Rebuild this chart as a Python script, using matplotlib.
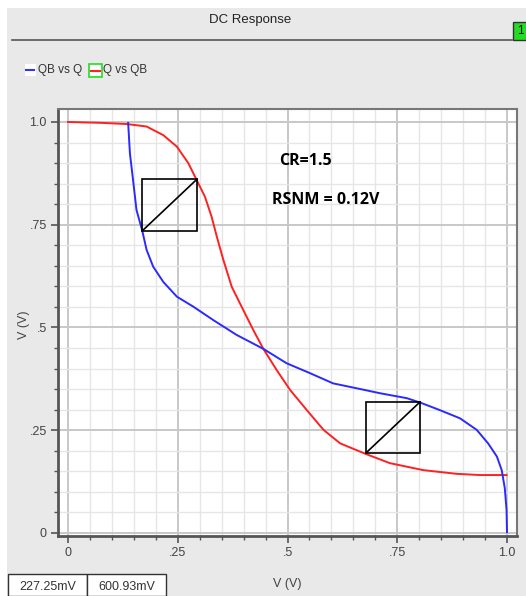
import numpy as np
import matplotlib.pyplot as plt
from matplotlib.patches import Rectangle
from matplotlib.ticker import MultipleLocator, FixedLocator

# QB vs Q (blue)
blueX = [0.137, 0.141, 0.149, 0.156, 0.169, 0.179, 0.194, 0.217, 0.248, 0.285, 0.331,
         0.384, 0.445, 0.498, 0.551, 0.604, 0.658, 0.711, 0.772, 0.803, 0.847, 0.893,
         0.931, 0.957, 0.977, 0.988, 0.995, 0.999, 1.0]
blueY = [0.998, 0.924, 0.851, 0.786, 0.736, 0.689, 0.648, 0.611, 0.575, 0.551, 0.518,
         0.482, 0.448, 0.413, 0.389, 0.364, 0.352, 0.340, 0.328, 0.317, 0.299, 0.279,
         0.251, 0.218, 0.186, 0.153, 0.109, 0.056, 0.002]
# Q vs QB (red)
redX = [0.0, 0.073, 0.134, 0.179, 0.217, 0.248, 0.274, 0.293, 0.312, 0.327, 0.339, 0.354,
        0.373, 0.399, 0.422, 0.445, 0.475, 0.506, 0.544, 0.582, 0.620, 0.679, 0.733,
        0.809, 0.885, 0.938, 0.999]
redY = [1.0, 0.998, 0.995, 0.989, 0.968, 0.940, 0.900, 0.859, 0.818, 0.770, 0.721, 0.664,
        0.599, 0.543, 0.494, 0.448, 0.397, 0.348, 0.299, 0.251, 0.218, 0.192, 0.170,
        0.153, 0.144, 0.141, 0.141]
# noise margin squares: (x0, y0, x1, y1)
squares = [(0.169, 0.735, 0.294, 0.861), (0.679, 0.195, 0.802, 0.319)]
tickVals = [0, 0.25, 0.5, 0.75, 1.0]
tickLabels = ["0", ".25", ".5", ".75", "1.0"]
cursorVals = ["227.25mV", "600.93mV"]

W, H = 526, 596
fig = plt.figure(figsize=(W/100, H/100), dpi=100)
fig.patch.set_facecolor("white")
uiFont = ["Liberation Sans", "DejaVu Sans"]
boldFont = ["Open Sans", "DejaVu Sans"]

# gray panel
fig.add_artist(Rectangle((7/W, 0), 1, (H-8)/H, transform=fig.transFigure,
                         facecolor="#e9e9e9", edgecolor="none", zorder=-10))
fig.text(250/W, 1-20/H, "DC Response", ha="center", va="center", fontsize=9.5,
         family=uiFont, color="#222222")
fig.add_artist(plt.Line2D([12/W, 512/W], [1-40/H, 1-40/H], transform=fig.transFigure,
                          color="#555555", lw=1.2))
fig.add_artist(Rectangle((513/W, 1-40/H), 14/W, 18/H, transform=fig.transFigure,
                         facecolor="#22dd22", edgecolor="#333333", lw=1))
fig.text(517/W, 1-31/H, "1", ha="left", va="center", fontsize=8.5, family=uiFont)

# legend
fig.add_artist(Rectangle((25/W, 1-76/H), 11/W, 12/H, transform=fig.transFigure,
                         facecolor="white", edgecolor="none"))
fig.add_artist(plt.Line2D([26/W, 34/W], [1-70/H, 1-70/H], transform=fig.transFigure,
                          color="#3333ff", lw=1.5))
fig.text(38/W, 1-70/H, "QB vs Q", ha="left", va="center", fontsize=8.5, family=uiFont,
         color="#333333")
fig.add_artist(Rectangle((89/W, 1-77/H), 13/W, 13/H, transform=fig.transFigure,
                         facecolor="white", edgecolor="#22dd22", lw=1.2))
fig.add_artist(plt.Line2D([91/W, 100/W], [1-70.5/H, 1-70.5/H], transform=fig.transFigure,
                          color="#ff2222", lw=1.5))
fig.text(103/W, 1-70/H, "Q vs QB", ha="left", va="center", fontsize=8.5, family=uiFont,
         color="#333333")

ax = fig.add_axes([58/W, 1-536/H, (517-58)/W, (536-109)/H])
ax.set_facecolor("white")
ax.set_xlim(-0.0228, 1.0228)
ax.set_ylim(-0.0073, 1.0316)

ax.xaxis.set_major_locator(FixedLocator(tickVals))
ax.yaxis.set_major_locator(FixedLocator(tickVals))
ax.xaxis.set_minor_locator(MultipleLocator(0.05))
ax.yaxis.set_minor_locator(MultipleLocator(0.05))
ax.set_xticklabels(tickLabels, family=uiFont, fontsize=9, color="#444444")
ax.set_yticklabels(tickLabels, family=uiFont, fontsize=9, color="#444444")
ax.grid(which="major", color="#c8c8c8", lw=1.4)
ax.grid(which="minor", color="#e6e6e6", lw=1.0)
ax.set_axisbelow(True)
ax.tick_params(which="major", length=5, width=1.2, color="#555555", pad=3)
ax.tick_params(which="minor", length=3, width=1, color="#555555")
for side in ["left", "bottom"]:
    ax.spines[side].set_color("#555555")
    ax.spines[side].set_linewidth(2)
for side in ["top", "right"]:
    ax.spines[side].set_color("#777777")
    ax.spines[side].set_linewidth(1.5)

ax.plot(redX, redY, color="#ff2020", lw=1.4, zorder=3)
ax.plot(blueX, blueY, color="#2a2aff", lw=1.4, zorder=3)

for x0, y0, x1, y1 in squares:
    ax.add_patch(Rectangle((x0, y0), x1-x0, y1-y0, facecolor="none", edgecolor="black",
                           lw=1.2, zorder=4))
    ax.plot([x0, x1], [y0, y1], color="black", lw=1.2, zorder=4)

ax.text(0.48, 0.905, "CR=1.5", fontsize=11.5, fontweight="bold", ha="left", va="center",
        family=boldFont)
ax.text(0.465, 0.81, "RSNM = 0.12V", fontsize=11.5, fontweight="bold", ha="left",
        va="center", family=boldFont)

ax.set_xlabel("V (V)", family=uiFont, fontsize=9, color="#444444")
ax.xaxis.set_label_coords((287-58)/459, -(578-536)/427)
ax.set_ylabel("V (V)", family=uiFont, fontsize=9, color="#444444")
ax.yaxis.set_label_coords(-(58-30)/459, (536-325)/427)

# cursor readouts
for i, s in enumerate(cursorVals):
    x0 = 8 + i*79
    fig.add_artist(Rectangle((x0/W, 0), 79/W, 22/H, transform=fig.transFigure,
                             facecolor="white", edgecolor="#333333", lw=1))
    fig.text((x0+40)/W, 9/H, s, ha="center", va="center", fontsize=9, family=uiFont,
             color="#333333")

fig.savefig("out.png", dpi=100)
